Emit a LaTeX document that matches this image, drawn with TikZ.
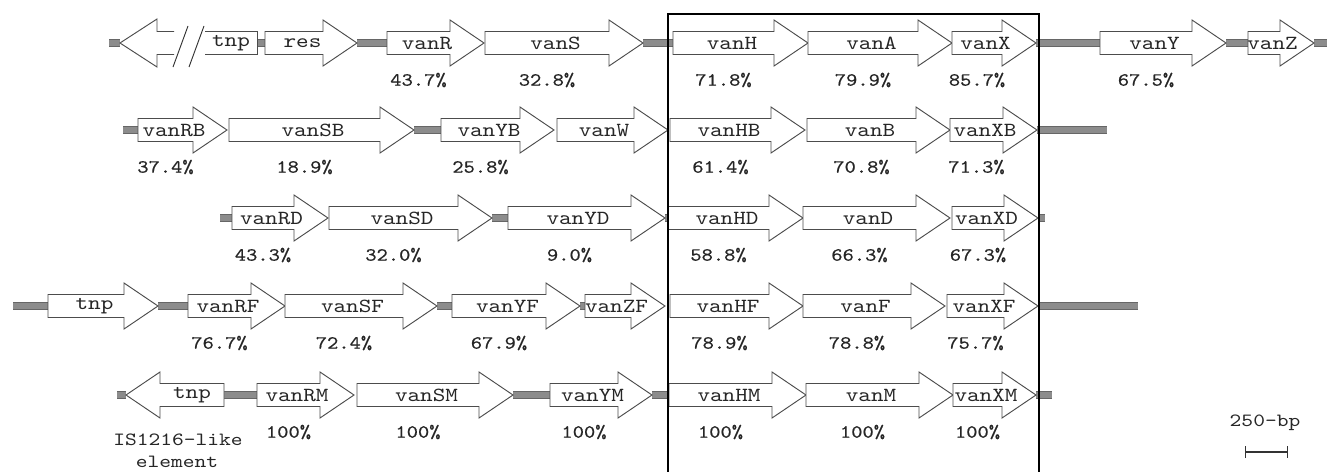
\documentclass[tikz,border=0pt]{standalone}
\usepackage{fontspec}
\setmonofont{lmmono10-regular.otf}[FakeStretch=1.2]
\newfontfamily\pctfont{lmmono10-regular.otf}[FakeStretch=1.15,FakeBold=0.5]
\usetikzlibrary{backgrounds,arrows.meta}

\tikzset{
  gene/.style={draw=black!70, fill=white, line width=0.7pt, line join=miter},
  brk/.style={draw=black!80, line width=0.7pt},
  spacer/.style={draw=black!60, line width=0.5pt, double=black!45, double distance=5pt},
  genename/.style={font=\ttfamily\fontsize{15}{15}\selectfont, text=black!85, inner sep=0pt},
  pct/.style={font=\pctfont\fontsize{14}{14}\selectfont, text=black!85, inner sep=0pt},
  note/.style={font=\ttfamily\fontsize{14}{14}\selectfont, text=black!85, inner sep=0pt},
  frame/.style={draw=black, line width=1.5pt},
  scalebar/.style={draw=black!80, line width=1pt, {Bar[width=9pt]}-{Bar[width=9pt]}},
}

% forward gene: left x, tip x, row y, node name, text, identity (none = no label)
\newcommand{\fwdgene}[6]{%
  \draw[gene] (#1,#3-11.5) -- (#2-34,#3-11.5) -- (#2-34,#3-23) -- (#2,#3)
    -- (#2-34,#3+23) -- (#2-34,#3+11.5) -- (#1,#3+11.5) -- cycle;
  \coordinate (#4-t) at (#1,#3);
  \coordinate (#4-h) at (#2,#3);
  \node[genename] (#4) at ({(#1+#2-17)/2},#3) {#5};
  \edef\pcttmp{#6}\def\pctnone{none}%
  \ifx\pcttmp\pctnone\else
    \node[pct] (p#4) at ({(#1+#2-34)/2},#3+37) {#6};
  \fi}

\begin{document}
\begin{tikzpicture}[x=0.75pt,y=0.75pt,yscale=-1]
\useasboundingbox (0,0) rectangle (1330,471);

% vanA operon
\draw[gene] (174,31.5) -- (157,31.5) -- (157,19) -- (120,43) -- (157,67) -- (157,54.5) -- (174,54.5);
\draw[brk] (188,26) -- (173,67) (204,26) -- (189,67);
\draw[gene] (205,31.5) -- (257,31.5) -- (257,54.5) -- (205,54.5);
\coordinate (tnpA-t) at (120,43);
\coordinate (tnpA-h) at (257,43);
\node[genename] (tnpA) at (231,43) {tnp};
\foreach \xa/\xb/\nm/\pc in {265/357/res/none, 387/484/vanR/43.7\%, 485/643/vanS/32.8\%,
    673/808/vanH/71.8\%, 808/952/vanA/79.9\%, 952/1036/vanX/85.7\%,
    1100/1226/vanY/67.5\%, 1248/1314/vanZ/none}
  {\fwdgene{\xa}{\xb}{43}{\nm}{\nm}{\pc}}

% vanB operon
\foreach \xa/\xb/\nm/\pc in {138/227/vanRB/37.4\%, 229/414/vanSB/18.9\%, 441/554/vanYB/25.8\%,
    557/668/vanW/none, 670/805/vanHB/61.4\%, 807/950/vanB/70.8\%, 950/1037/vanXB/71.3\%}
  {\fwdgene{\xa}{\xb}{130}{\nm}{\nm}{\pc}}

% vanD operon
\foreach \xa/\xb/\nm/\pc in {232/328/vanRD/43.3\%, 329/492/vanSD/32.0\%, 508/665/vanYD/9.0\%,
    668/803/vanHD/58.8\%, 803/950/vanD/66.3\%, 952/1038/vanXD/67.3\%}
  {\fwdgene{\xa}{\xb}{218}{\nm}{\nm}{\pc}}

% vanF operon
\fwdgene{48}{158}{306}{tnpF}{tnp}{none}
\foreach \xa/\xb/\nm/\pc in {188/285/vanRF/76.7\%, 285/437/vanSF/72.4\%, 452/580/vanYF/67.9\%,
    585/665/vanZF/none, 670/803/vanHF/78.9\%, 803/945/vanF/78.8\%, 947/1038/vanXF/75.7\%}
  {\fwdgene{\xa}{\xb}{306}{\nm}{\nm}{\pc}}

% vanM operon
\draw[gene] (126,395) -- (160,372) -- (160,383.5) -- (224,383.5) -- (224,406.5) -- (160,406.5) -- (160,418) -- cycle;
\coordinate (tnpM-t) at (126,395);
\coordinate (tnpM-h) at (224,395);
\node[genename] (tnpM) at (192,395) {tnp};
\foreach \xa/\xb/\nm/\pc in {257/354/vanRM/100\%, 357/513/vanSM/100\%, 550/652/vanYM/100\%,
    669/806/vanHM/100\%, 806/953/vanM/100\%, 953/1036/vanXM/100\%}
  {\fwdgene{\xa}{\xb}{395}{\nm}{\nm}{\pc}}
\node[note] (is) at (178,440) {IS1216-like};
\node[note] (elem) at (177,462) {element};

% intergenic spacers
\begin{scope}[on background layer]
\coordinate (r1l) at (109,43);  \coordinate (r1r) at (1327,43);
\coordinate (r2l) at (123,130); \coordinate (r2r) at (1107,130);
\coordinate (r3l) at (220,218); \coordinate (r3r) at (1045,218);
\coordinate (r4l) at (13,306);  \coordinate (r4r) at (1138,306);
\coordinate (r5l) at (117,395); \coordinate (r5r) at (1052,395);
\draw[spacer] (r1l) -- (tnpA-t) (tnpA-h) -- (res-t) (res-h) -- (vanR-t)
  (vanS-h) -- (vanH-t) (vanX-h) -- (vanY-t) (vanY-h) -- (vanZ-t) (vanZ-h) -- (r1r);
\draw[spacer] (r2l) -- (vanRB-t) (vanSB-h) -- (vanYB-t) (vanXB-h) -- (r2r);
\draw[spacer] (r3l) -- (vanRD-t) (vanSD-h) -- (vanYD-t) (vanYD-h) -- (vanHD-t) (vanXD-h) -- (r3r);
\draw[spacer] (r4l) -- (tnpF-t) (tnpF-h) -- (vanRF-t) (vanSF-h) -- (vanYF-t)
  (vanYF-h) -- (vanZF-t) (vanXF-h) -- (r4r);
\draw[spacer] (r5l) -- (tnpM-t) (tnpM-h) -- (vanRM-t) (vanSM-h) -- (vanYM-t)
  (vanYM-h) -- (vanHM-t) (vanXM-h) -- (r5r);
\end{scope}

% conserved vanHAX block
\draw[frame] (668,14) rectangle (1039,480);

% scale
\node[note] (bp) at (1265,423) {250-bp};
\coordinate (sbl) at (1245,452);
\coordinate (sbr) at (1288,452);
\draw[scalebar] (sbl) -- (sbr);
\end{tikzpicture}
\end{document}
